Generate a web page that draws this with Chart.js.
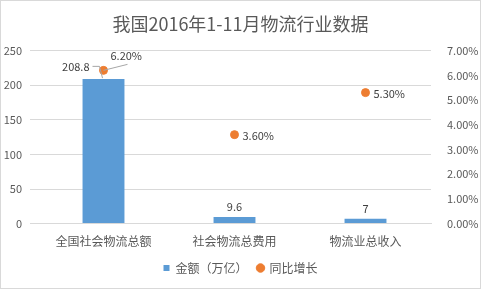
<!DOCTYPE html>
<html>
<head>
<meta charset="utf-8">
<script src="https://cdn.jsdelivr.net/npm/chart.js@4/dist/chart.umd.min.js"></script>
<style>
  html, body { margin: 0; padding: 0; background: #fff; }
  #wrap { width: 481px; height: 289px; box-sizing: border-box; border: 1px solid #d9d9d9; }
</style>
</head>
<body>
<div id="wrap"><canvas id="grafico" width="479" height="287"></canvas></div>
<script>
// Datos
const categorias = ['全国社会物流总额', '社会物流总费用', '物流业总收入'];
const montos = [208.8, 9.6, 7];
const crecimiento = [6.2, 3.6, 5.3];

const FUENTE = '"Noto Sans CJK SC", "Noto Sans", sans-serif';
const GRIS = '#595959';

// Etiquetas de datos (estilo Excel)
const etiquetas = {
    id: 'etiquetas',
    afterDatasetsDraw(chart) {
        const ctx = chart.ctx;
        ctx.save();
        ctx.font = '11px ' + FUENTE;
        ctx.fillStyle = '#404040';
        ctx.textBaseline = 'middle';

        const barras = chart.getDatasetMeta(0).data;
        const puntos = chart.getDatasetMeta(1).data;

        barras.forEach((bar, i) => {
            const texto = String(montos[i]);
            if (i === 0) {
                const p = puntos[0];
                ctx.textAlign = 'right';
                ctx.fillText(texto, bar.x - 14, p.y - 4);
                ctx.strokeStyle = '#a6a6a6';
                ctx.lineWidth = 1;
                ctx.beginPath();
                ctx.moveTo(bar.x - 11, p.y - 4);
                ctx.lineTo(bar.x - 4, p.y - 4);
                ctx.lineTo(bar.x - 1, bar.y - 1);
                ctx.stroke();
            } else {
                ctx.textAlign = 'center';
                ctx.fillText(texto, bar.x, bar.y - 10);
            }
        });

        puntos.forEach((p, i) => {
            const texto = crecimiento[i].toFixed(2) + '%';
            ctx.textAlign = 'left';
            if (i === 0) {
                ctx.strokeStyle = '#a6a6a6';
                ctx.beginPath();
                ctx.moveTo(p.x, p.y);
                ctx.lineTo(p.x + 24, p.y - 6);
                ctx.stroke();
                ctx.fillText(texto, p.x + 7, p.y - 15);
            } else {
                ctx.fillText(texto, p.x + 8, p.y + 1);
            }
        });
        ctx.restore();
    }
};

const ctx = document.getElementById('grafico').getContext('2d');
new Chart(ctx, {
    data: {
        labels: categorias,
        datasets: [{
            type: 'bar',
            label: '金额（万亿）',
            data: montos,
            backgroundColor: '#5b9bd5',
            categoryPercentage: 1,
            barPercentage: 0.32,
            yAxisID: 'y',
            order: 2,
            pointStyle: 'rect'
        }, {
            type: 'line',
            label: '同比增长',
            data: crecimiento,
            showLine: false,
            backgroundColor: '#ed7d31',
            borderColor: '#ed7d31',
            pointRadius: 4,
            pointHoverRadius: 4,
            pointStyle: 'circle',
            yAxisID: 'y1',
            order: 1
        }]
    },
    options: {
        responsive: false,
        animation: false,
        layout: { padding: { top: 0, bottom: 4, left: 0, right: 0 } },
        plugins: {
            title: {
                display: true,
                text: '我国2016年1-11月物流行业数据',
                color: GRIS,
                font: { family: FUENTE, size: 18, weight: 'normal' },
                padding: { top: 12, bottom: 16 }
            },
            legend: {
                position: 'bottom',
                labels: {
                    usePointStyle: true,
                    boxWidth: 6,
                    boxHeight: 6,
                    padding: 10,
                    color: GRIS,
                    font: { family: FUENTE, size: 12 },
                    sort: (a, b) => a.datasetIndex - b.datasetIndex
                }
            },
            tooltip: { enabled: false }
        },
        scales: {
            x: {
                grid: { display: false },
                border: { color: '#d9d9d9' },
                ticks: { color: GRIS, font: { family: FUENTE, size: 12 }, padding: 3 }
            },
            y: {
                position: 'left',
                min: 0, max: 250,
                ticks: { stepSize: 50, color: GRIS, font: { family: FUENTE, size: 11 }, padding: 8 },
                grid: { color: '#d9d9d9' },
                border: { display: false },
                afterFit: (s) => { s.width = 37; }
            },
            y1: {
                position: 'right',
                min: 0, max: 7,
                ticks: {
                    stepSize: 1, color: GRIS, font: { family: FUENTE, size: 11 }, padding: 8,
                    callback: (v) => v.toFixed(2) + '%'
                },
                grid: { display: false },
                border: { display: false },
                afterFit: (s) => { s.width = 49; }
            }
        }
    },
    plugins: [etiquetas]
});
</script>
</body>
</html>
